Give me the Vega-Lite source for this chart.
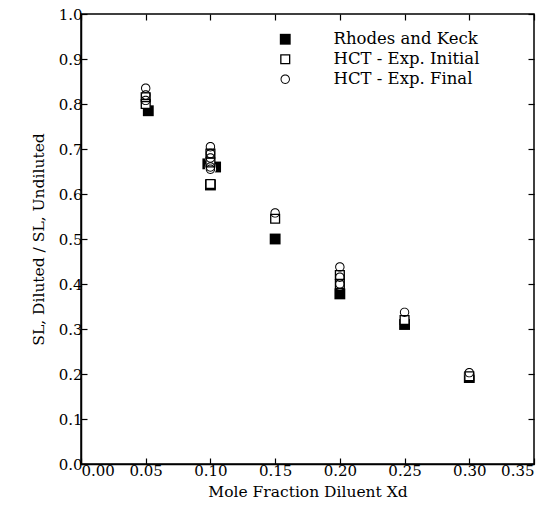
{
  "$schema": "https://vega.github.io/schema/vega-lite/v6.json",
  "width": 453,
  "height": 450,
  "autosize": {"type": "none"},
  "padding": {"left": 81, "top": 14, "right": 19, "bottom": 65},
  "background": "white",
  "config": {
    "font": "DejaVu Serif",
    "view": {"stroke": "black", "strokeWidth": 1.5},
    "axis": {"domainColor": "black", "tickColor": "black", "labelColor": "black", "titleColor": "black", "grid": false, "tickSize": -6, "labelFontSize": 15, "titleFontSize": 15.5, "titleFontWeight": "normal", "labelFont": "DejaVu Serif", "titleFont": "DejaVu Serif", "domainWidth": 1.5, "tickWidth": 1.2},
    "legend": {"orient": "none", "legendX": 196, "legendY": 17, "labelFont": "DejaVu Serif", "labelFontSize": 16.5, "labelColor": "black", "labelOffset": 40, "rowPadding": 3, "padding": 0}
  },
  "data": {"values": [
    {"x": 0.052, "y": 0.785, "s": "Rhodes and Keck"},
    {"x": 0.098, "y": 0.667, "s": "Rhodes and Keck"},
    {"x": 0.104, "y": 0.66, "s": "Rhodes and Keck"},
    {"x": 0.1, "y": 0.62, "s": "Rhodes and Keck"},
    {"x": 0.15, "y": 0.50, "s": "Rhodes and Keck"},
    {"x": 0.20, "y": 0.378, "s": "Rhodes and Keck"},
    {"x": 0.25, "y": 0.31, "s": "Rhodes and Keck"},
    {"x": 0.30, "y": 0.192, "s": "Rhodes and Keck"},
    {"x": 0.05, "y": 0.80, "s": "HCT - Exp. Initial"},
    {"x": 0.05, "y": 0.815, "s": "HCT - Exp. Initial"},
    {"x": 0.10, "y": 0.622, "s": "HCT - Exp. Initial"},
    {"x": 0.10, "y": 0.67, "s": "HCT - Exp. Initial"},
    {"x": 0.10, "y": 0.69, "s": "HCT - Exp. Initial"},
    {"x": 0.15, "y": 0.545, "s": "HCT - Exp. Initial"},
    {"x": 0.20, "y": 0.42, "s": "HCT - Exp. Initial"},
    {"x": 0.20, "y": 0.40, "s": "HCT - Exp. Initial"},
    {"x": 0.25, "y": 0.32, "s": "HCT - Exp. Initial"},
    {"x": 0.30, "y": 0.195, "s": "HCT - Exp. Initial"},
    {"x": 0.05, "y": 0.835, "s": "HCT - Exp. Final"},
    {"x": 0.05, "y": 0.82, "s": "HCT - Exp. Final"},
    {"x": 0.05, "y": 0.808, "s": "HCT - Exp. Final"},
    {"x": 0.10, "y": 0.705, "s": "HCT - Exp. Final"},
    {"x": 0.10, "y": 0.69, "s": "HCT - Exp. Final"},
    {"x": 0.10, "y": 0.68, "s": "HCT - Exp. Final"},
    {"x": 0.10, "y": 0.66, "s": "HCT - Exp. Final"},
    {"x": 0.10, "y": 0.655, "s": "HCT - Exp. Final"},
    {"x": 0.15, "y": 0.558, "s": "HCT - Exp. Final"},
    {"x": 0.20, "y": 0.438, "s": "HCT - Exp. Final"},
    {"x": 0.20, "y": 0.415, "s": "HCT - Exp. Final"},
    {"x": 0.20, "y": 0.40, "s": "HCT - Exp. Final"},
    {"x": 0.25, "y": 0.337, "s": "HCT - Exp. Final"},
    {"x": 0.30, "y": 0.203, "s": "HCT - Exp. Final"}
  ]},
  "encoding": {
    "x": {"field": "x", "type": "quantitative", "scale": {"domain": [0, 0.35], "nice": false, "zero": false}, "axis": null},
    "y": {"field": "y", "type": "quantitative", "scale": {"domain": [0, 1], "nice": false}, "axis": null}
  },
  "layer": [
    {
      "transform": [{"filter": "datum.s === 'Rhodes and Keck'"}],
      "mark": {"type": "point", "filled": true, "color": "black", "opacity": 1},
      "encoding": {
        "x": {"field": "x", "type": "quantitative",
          "axis": {"orient": "bottom", "values": [0, 0.05, 0.1, 0.15, 0.2, 0.25, 0.3, 0.35], "format": ".2f", "labelPadding": 5, "title": "Mole Fraction Diluent Xd", "titlePadding": 6}},
        "y": {"field": "y", "type": "quantitative",
          "axis": {"orient": "left", "values": [0, 0.1, 0.2, 0.3, 0.4, 0.5, 0.6, 0.7, 0.8, 0.9, 1.0], "format": ".1f", "labelPadding": 5, "title": "SL, Diluted / SL, Undiluted", "titlePadding": 12}},
        "shape": {"field": "s", "type": "nominal", "title": null, "scale": {"domain": ["Rhodes and Keck", "HCT - Exp. Initial", "HCT - Exp. Final"], "range": ["M-1,-1H1V1H-1Z", "M-1,-1H1V1H-1Z M-0.74,-0.74V0.74H0.74V-0.74Z", "M1,0A1,1 0 1,1 -1,0A1,1 0 1,1 1,0Z M0.8,0A0.8,0.8 0 1,0 -0.8,0A0.8,0.8 0 1,0 0.8,0Z"]}},
        "size": {"field": "s", "type": "nominal", "title": null, "scale": {"domain": ["Rhodes and Keck", "HCT - Exp. Initial", "HCT - Exp. Final"], "range": [118, 88, 135]}}
      }
    },
    {
      "transform": [{"filter": "datum.s === 'HCT - Exp. Initial'"}],
      "mark": {"type": "square", "color": "white", "opacity": 1, "size": 80},
      "encoding": {}
    },
    {
      "transform": [{"filter": "datum.s === 'HCT - Exp. Final'"}],
      "mark": {"type": "circle", "color": "white", "opacity": 1, "size": 125},
      "encoding": {}
    },
    {
      "transform": [{"filter": "datum.s !== 'Rhodes and Keck'"}],
      "mark": {"type": "point", "filled": true, "color": "black", "opacity": 1},
      "encoding": {
        "shape": {"field": "s", "type": "nominal", "title": null},
        "size": {"field": "s", "type": "nominal", "title": null}
      }
    },
    {
      "mark": {"type": "point", "opacity": 0},
      "encoding": {
        "x": {"field": "x", "type": "quantitative", "axis": {"orient": "top", "values": [0, 0.05, 0.1, 0.15, 0.2, 0.25, 0.3, 0.35], "labels": false, "title": null, "domain": false}},
        "y": {"field": "y", "type": "quantitative", "axis": {"orient": "right", "values": [0, 0.1, 0.2, 0.3, 0.4, 0.5, 0.6, 0.7, 0.8, 0.9, 1.0], "labels": false, "title": null, "domain": false}}
      }
    }
  ],
  "resolve": {"axis": {"x": "independent", "y": "independent"}}
}
